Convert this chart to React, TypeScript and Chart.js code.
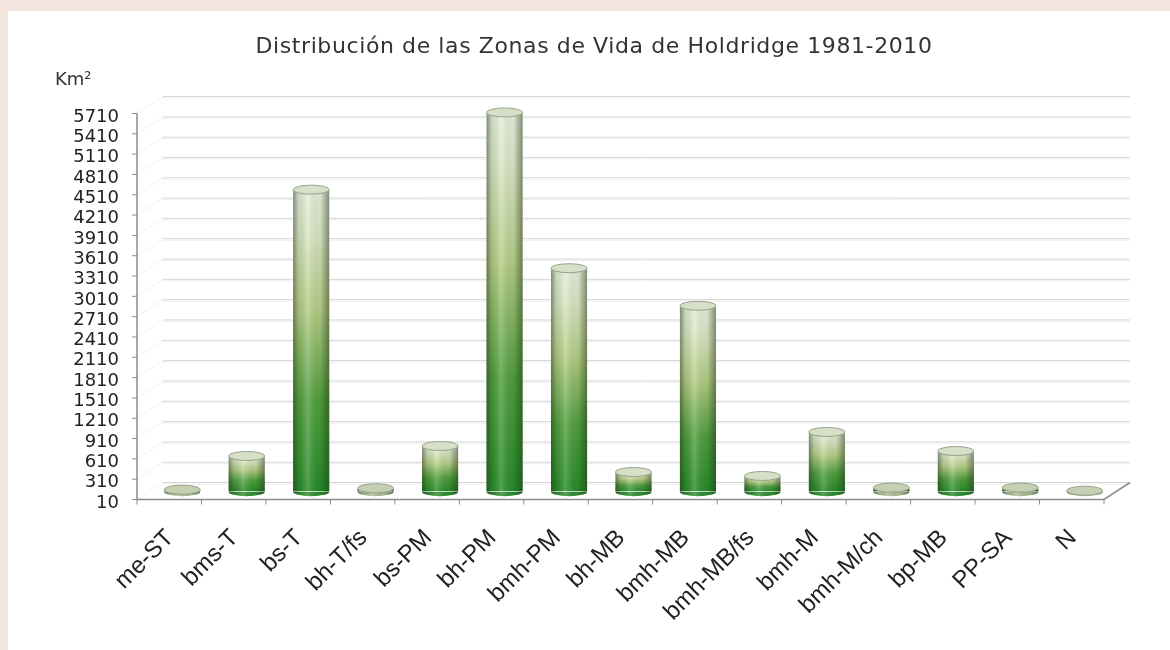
import React, { useEffect, useRef } from "react";
import { Chart, registerables } from "chart.js";

Chart.register(...registerables);

// ---- data ----
const categories = [
  "me-ST", "bms-T", "bs-T", "bh-T/fs", "bs-PM", "bh-PM", "bmh-PM", "bh-MB",
  "bmh-MB", "bmh-MB/fs", "bmh-M", "bmh-M/ch", "bp-MB", "PP-SA", "N",
];
const areaKm2 = [30, 527, 4460, 50, 675, 5600, 3300, 290, 2745, 232, 882, 60, 600, 60, 15];
const yTickValues = [
  10, 310, 610, 910, 1210, 1510, 1810, 2110, 2410, 2710, 3010, 3310, 3610,
  3910, 4210, 4510, 4810, 5110, 5410, 5710,
];
const yMin = 10;
const yMax = 5710;
const chartTitle = "Distribución de las Zonas de Vida de Holdridge 1981-2010";
const yUnit = "Km²";

// ---- drawing helpers ----
const DX = 13;
const DY = 8.5;
const LABEL_ROTATION = 45;

const textPlugin = {
  id: "textPlugin",
  afterDraw(chart: any) {
    const { ctx } = chart;
    ctx.save();
    ctx.fillStyle = "#333";
    ctx.textBaseline = "middle";
    ctx.textAlign = "center";
    ctx.font = "22px 'DejaVu Sans'";
    try {
      (ctx as any).letterSpacing = "0.6px";
    } catch (e) {}
    ctx.fillText(chartTitle, 586, 36);
    try {
      (ctx as any).letterSpacing = "0px";
    } catch (e) {}
    ctx.textAlign = "left";
    ctx.font = "18px 'DejaVu Sans'";
    ctx.fillText(yUnit, 47, 69);
    ctx.restore();
  },
};

const framePlugin = {
  id: "framePlugin",
  beforeDatasetsDraw(chart: any) {
    const { ctx, chartArea: a } = chart;
    const x = chart.scales.x;
    const y = chart.scales.y;
    const base = y.getPixelForValue(yMin);
    ctx.save();
    yTickValues.forEach((v) => {
      const py = y.getPixelForValue(v);
      ctx.lineWidth = 1;
      ctx.strokeStyle = "#d6d6d6";
      ctx.beginPath();
      ctx.moveTo(a.left + DX, py - DY);
      ctx.lineTo(a.right + DX, py - DY);
      ctx.stroke();
      ctx.strokeStyle = "#eeeeee";
      ctx.beginPath();
      ctx.moveTo(a.left + DX, py - DY + 1.5);
      ctx.lineTo(a.right + DX, py - DY + 1.5);
      ctx.stroke();
      ctx.strokeStyle = "#f1f1f1";
      ctx.beginPath();
      ctx.moveTo(a.left - DX, py + DY);
      ctx.lineTo(a.left + DX, py - DY);
      ctx.stroke();
      ctx.strokeStyle = "#8c8c8c";
      ctx.beginPath();
      ctx.moveTo(a.left - DX - 5, py + DY);
      ctx.lineTo(a.left - DX, py + DY);
      ctx.stroke();
    });
    ctx.strokeStyle = "#8c8c8c";
    ctx.lineWidth = 1.5;
    ctx.beginPath();
    ctx.moveTo(a.left - DX, y.getPixelForValue(yMax) + DY);
    ctx.lineTo(a.left - DX, base + DY);
    ctx.lineTo(a.right - DX, base + DY);
    ctx.lineTo(a.right + DX, base - DY);
    ctx.stroke();
    ctx.lineWidth = 1;
    const n = categories.length;
    for (let k = 0; k <= n; k++) {
      const bx = x.left + (k * x.width) / n - DX;
      ctx.beginPath();
      ctx.moveTo(bx, base + DY);
      ctx.lineTo(bx, base + DY + 5);
      ctx.stroke();
    }
    ctx.restore();
  },
  afterDatasetsDraw(chart: any) {
    const { ctx } = chart;
    const meta = chart.getDatasetMeta(0);
    ctx.save();
    meta.data.forEach((bar: any) => {
      const p = bar.getProps(["x", "y", "base", "width"], true);
      const cx = p.x;
      const top = p.y;
      const base = p.base;
      const rx = p.width / 2;
      if (![cx, top, base, rx].every((v) => Number.isFinite(v))) return;
      const ry = 4.5;
      const h = base - top;
      const shade = ctx.createLinearGradient(cx - rx, 0, cx + rx, 0);
      shade.addColorStop(0, "rgba(30,45,25,0.5)");
      shade.addColorStop(0.15, "rgba(30,45,25,0.12)");
      shade.addColorStop(0.4, "rgba(255,255,255,0.2)");
      shade.addColorStop(0.75, "rgba(30,45,25,0.05)");
      shade.addColorStop(1, "rgba(30,45,25,0.5)");
      ctx.beginPath();
      ctx.ellipse(cx, base, rx, ry, 0, 0, Math.PI);
      ctx.closePath();
      ctx.fillStyle = h > 10 ? "#2a8d2c" : "#a9bb93";
      ctx.fill();
      ctx.fillStyle = shade;
      ctx.fill();
      if (h > 0.5) {
        ctx.fillStyle = shade;
        ctx.fillRect(cx - rx, top, rx * 2, h);
      }
      ctx.beginPath();
      ctx.ellipse(cx, top, rx, ry, 0, 0, Math.PI * 2);
      ctx.fillStyle = h > 10 ? "#d6e0c8" : "#c4cfb4";
      ctx.fill();
      ctx.lineWidth = 1;
      ctx.strokeStyle = "#98a38c";
      ctx.stroke();
    });
    ctx.restore();
  },
};

export default function App() {
  const canvasRef = useRef<HTMLCanvasElement | null>(null);

  useEffect(() => {
    const canvas = canvasRef.current;
    if (!canvas) return;
    const chart = new Chart(canvas, {
      type: "bar",
      data: {
        labels: categories,
        datasets: [
          {
            data: areaKm2,
            borderWidth: 0,
            barPercentage: 0.56,
            categoryPercentage: 1,
            backgroundColor: (c: any) => {
              const ch = c.chart;
              if (c.type !== "data" || !ch.scales || !ch.scales.y) return "#6aa84f";
              const y = ch.scales.y;
              const top = y.getPixelForValue(c.raw);
              const bot = y.getPixelForValue(yMin);
              if (!Number.isFinite(top) || !Number.isFinite(bot)) return "#6aa84f";
              if (bot - top < 2) return "#b3c49e";
              const g = ch.ctx.createLinearGradient(0, bot, 0, top);
              g.addColorStop(0, "#248a26");
              g.addColorStop(0.3, "#4f9e3c");
              g.addColorStop(0.6, "#b4cc84");
              g.addColorStop(0.85, "#d9e5c3");
              g.addColorStop(1, "#e6eedb");
              return g;
            },
          },
        ],
      },
      options: {
        responsive: false,
        animation: false,
        layout: { padding: { left: 0, right: 53, top: 94, bottom: 0 } },
        plugins: {
          legend: { display: false },
          title: { display: false },
          tooltip: { enabled: false },
        },
        scales: {
          x: {
            grid: { display: false, drawTicks: false },
            border: { display: false },
            ticks: {
              autoSkip: false,
              maxRotation: LABEL_ROTATION,
              minRotation: LABEL_ROTATION,
              padding: 33,
              labelOffset: -12,
              color: "#222",
              font: { family: "'Liberation Sans'", size: 24 },
            },
            afterCalculateLabelRotation: (s: any) => {
              s.labelRotation = LABEL_ROTATION;
            },
            afterFit: (s: any) => {
              s.height = 159;
            },
          },
          y: {
            min: yMin,
            max: yMax,
            grid: { display: false, drawTicks: false },
            border: { display: false },
            afterBuildTicks: (s: any) => {
              s.ticks = yTickValues.map((v) => ({ value: v }));
            },
            ticks: {
              autoSkip: false,
              padding: 31,
              labelOffset: 12,
              color: "#222",
              font: { family: "'DejaVu Sans'", size: 18 },
              callback: (v: any) => String(v),
            },
            afterFit: (s: any) => {
              s.width = 142;
            },
          },
        },
      },
      plugins: [framePlugin, textPlugin],
    });
    return () => chart.destroy();
  }, []);

  return (
    <div
      style={{
        position: "fixed",
        left: 0,
        top: 0,
        width: 1170,
        height: 650,
        background: "#f2e6de",
        overflow: "hidden",
      }}
    >
      <div
        style={{
          position: "absolute",
          left: 8,
          top: 11,
          width: 1162,
          height: 639,
          background: "#ffffff",
        }}
      >
        <canvas ref={canvasRef} width={1162} height={639} style={{ display: "block" }} />
      </div>
    </div>
  );
}
